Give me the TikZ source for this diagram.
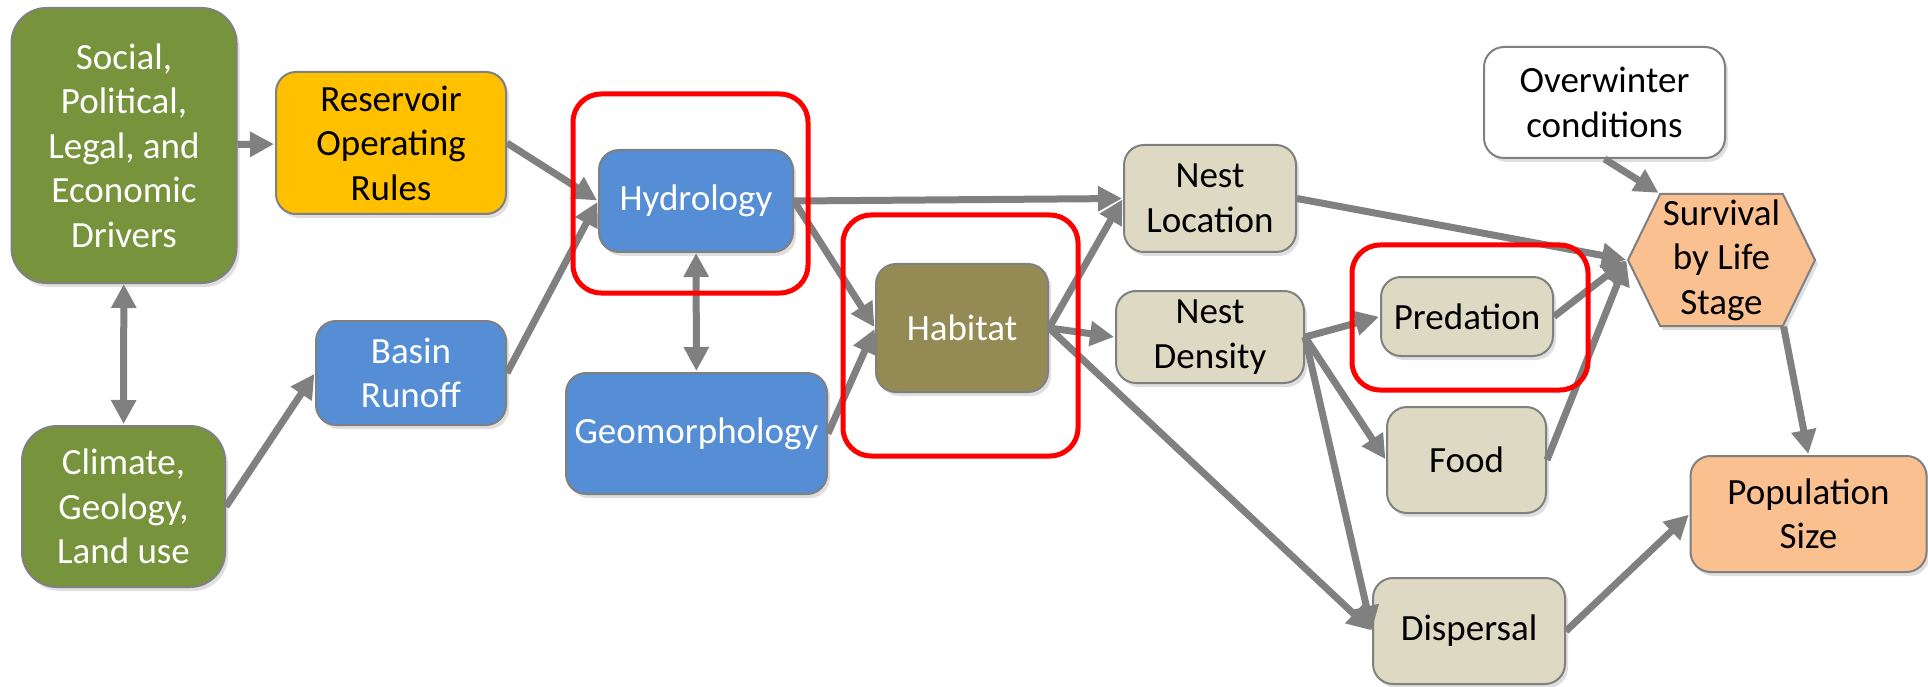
\documentclass[tikz,border=0pt]{standalone}
\usepackage{fontspec}
\setmainfont{Carlito}
\usetikzlibrary{arrows.meta,positioning,shapes.symbols,shadows}

\definecolor{drivergreen}{HTML}{77933C}
\definecolor{ruleyellow}{HTML}{FFC000}
\definecolor{waterblue}{HTML}{558ED5}
\definecolor{habitatbrown}{HTML}{948A54}
\definecolor{nesttan}{HTML}{DDD9C3}
\definecolor{outcomepeach}{HTML}{FAC090}
\definecolor{linegray}{HTML}{808080}

\begin{document}
\begin{tikzpicture}[x=1pt,y=-1pt,
    every edge/.style={draw=linegray,line width=7pt,shorten >=1pt,
      -{Triangle[length=24pt,width=24pt]}},
    both ways/.style={{Triangle[length=24pt,width=24pt]}-{Triangle[length=24pt,width=24pt]}},
    main node/.style={draw=linegray,line width=2pt,rounded corners=20pt,align=center,inner sep=0pt,
      font=\fontsize{37}{44.5}\selectfont,
      drop shadow={shadow xshift=3pt,shadow yshift=-4pt,opacity=0.25}},
    green node/.style={main node,fill=drivergreen,text=white,rounded corners=35pt},
    blue node/.style={main node,fill=waterblue,text=white},
    tan node/.style={main node,fill=nesttan},
    peach node/.style={main node,fill=outcomepeach},
    red frame/.style={draw=red,line width=5pt,rounded corners=28pt,inner sep=0pt}]
  \useasboundingbox (0,0) rectangle (1928,687);

  \node[green node,minimum width=225pt,minimum height=275pt] (1) at (124,145.5) {Social,\\Political,\\Legal, and\\Economic\\Drivers};
  \node[green node,minimum width=203pt,minimum height=161pt] (2) at (123.5,506.5) {Climate,\\Geology,\\Land use};
  \node[main node,fill=ruleyellow,minimum width=230pt,minimum height=142pt] (3) at (391,143) {Reservoir\\Operating\\Rules};
  \node[blue node,minimum width=190pt,minimum height=104pt] (4) at (411,373) {Basin\\Runoff};
  \node[blue node,minimum width=194pt,minimum height=102pt] (5) at (696,201) {Hydrology};
  \node[blue node,minimum width=261pt,minimum height=121pt] (6) at (696.5,433.5) {Geomorphology};
  \node[main node,fill=habitatbrown,text=white,minimum width=172pt,minimum height=128pt] (7) at (962,328) {Habitat};
  \node[tan node,minimum width=172pt,minimum height=107pt] (8) at (1210,198.5) {Nest\\Location};
  \node[tan node,minimum width=188pt,minimum height=92pt] (9) at (1210,337) {Nest\\Density};
  \node[tan node,minimum width=172pt,minimum height=79pt] (10) at (1467,316.5) {Predation};
  \node[tan node,minimum width=159pt,minimum height=106pt] (11) at (1466.5,460) {Food};
  \node[tan node,minimum width=192pt,minimum height=106pt] (12) at (1469,631) {Dispersal};
  \node[main node,fill=white,minimum width=241pt,minimum height=111pt] (13) at (1604.5,102.5) {Overwinter\\conditions};
  \node[main node,fill=outcomepeach,rounded corners=0pt,signal,signal to=west and east,signal pointer angle=128,
        minimum width=187pt,minimum height=132pt] (14) at (1721.5,260) {Survival\\by Life\\Stage};
  \node[peach node,minimum width=236pt,minimum height=116pt] (15) at (1808.5,514) {Population\\Size};

  \path
    (1) edge (3)
    (1) edge [both ways] (2)
    (2.east) edge (4.west)
    (3.east) edge (5.west)
    (4.east) edge (5.west)
    (5) edge [both ways] (6)
    (5.east) edge (8.west)
    (5.east) edge (7.west)
    (6.east) edge (7.west)
    (7.east) edge (8.west)
    (7.east) edge (9.west)
    (7.east) edge (12.west)
    (9.east) edge (10.west)
    (9.east) edge (11.west)
    (9.east) edge (12.west)
    (13.south) edge (14.133)
    (8.east) edge (14.west)
    (10.east) edge (14.west)
    (11.east) edge (14.west)
    (14.-47) edge (15.north)
    (12.east) edge (15.west)
  ;

  \node[red frame,minimum width=235pt,minimum height=199pt] (f5) at (690.5,193.5) {};
  \node[red frame,minimum width=235pt,minimum height=241pt] (f7) at (960.5,335.5) {};
  \node[red frame,minimum width=236pt,minimum height=145pt] (f10) at (1470,317.5) {};
\end{tikzpicture}
\end{document}
